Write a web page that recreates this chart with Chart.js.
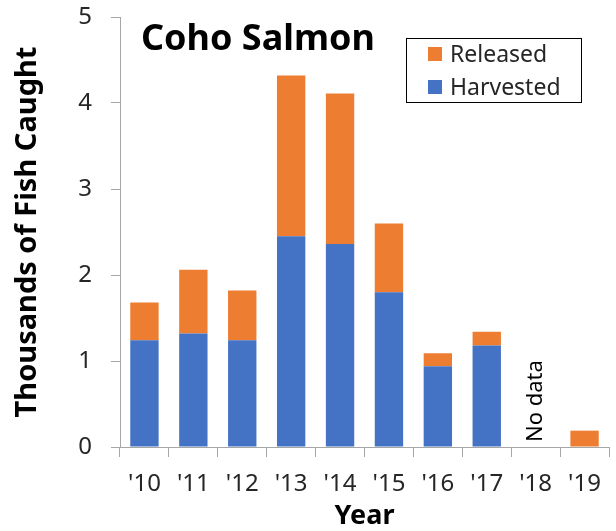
<!DOCTYPE html>
<html>
<head>
<meta charset="utf-8">
<script src="https://cdn.jsdelivr.net/npm/chart.js@4"></script>
<style>
  html, body { margin: 0; padding: 0; background: #fff; }
  #wrap { width: 616px; height: 531px; }
</style>
</head>
<body>
<div id="wrap"><canvas id="cohoChart"></canvas></div>
<script>
const years = ["'10", "'11", "'12", "'13", "'14", "'15", "'16", "'17", "'18", "'19"];
const harvested = [1.24, 1.32, 1.24, 2.45, 2.36, 1.80, 0.94, 1.18, null, 0];
const released = [0.44, 0.74, 0.58, 1.87, 1.75, 0.80, 0.15, 0.16, null, 0.19];
const yTicks = [0, 1, 2, 3, 4, 5];

const chartTitle = 'Coho Salmon';
const noDataLabel = 'No data';
const noDataIndex = 8;

const FONT = '"Noto Sans", "Open Sans", sans-serif';
Chart.defaults.font.family = FONT;
Chart.defaults.color = '#262626';

// title, boxed legend and the "No data" note sit inside the plot area
const extras = {
    id: 'extras',
    afterDraw(chart) {
        const ctx = chart.ctx;
        const x = chart.scales.x;
        const y = chart.scales.y;
        const area = chart.chartArea;
        ctx.save();

        ctx.fillStyle = '#000';
        ctx.font = 'bold 36px ' + FONT;
        ctx.textAlign = 'left';
        ctx.textBaseline = 'middle';
        ctx.fillText(chartTitle, area.left + 21, 40);

        // legend box (released first, like the original)
        const lx = 406, ly = 38, lw = 175, lh = 64;
        ctx.strokeStyle = '#000';
        ctx.lineWidth = 1;
        ctx.strokeRect(lx + 0.5, ly + 0.5, lw, lh);
        const items = chart.data.datasets.slice().reverse();
        ctx.font = '23px ' + FONT;
        items.forEach((ds, i) => {
            const cy = ly + 16 + i * 33;
            ctx.fillStyle = ds.backgroundColor;
            ctx.fillRect(lx + 22, cy - 7, 14, 14);
            ctx.fillStyle = '#262626';
            ctx.fillText(ds.label, lx + 44, cy + 1);
        });

        ctx.translate(x.getPixelForValue(noDataIndex), y.getPixelForValue(0) - 5);
        ctx.rotate(-Math.PI / 2);
        ctx.font = '22px ' + FONT;
        ctx.fillStyle = '#000';
        ctx.textAlign = 'left';
        ctx.textBaseline = 'middle';
        ctx.fillText(noDataLabel, 0, 0);
        ctx.restore();
    }
};

const axisGray = '#a6a6a6';

new Chart(document.getElementById('cohoChart'), {
    type: 'bar',
    data: {
        labels: years,
        datasets: [
            {
                label: 'Harvested',
                data: harvested,
                backgroundColor: '#4472c4',
                barPercentage: 0.58,
                categoryPercentage: 1
            },
            {
                label: 'Released',
                data: released,
                backgroundColor: '#ed7d31',
                barPercentage: 0.58,
                categoryPercentage: 1
            }
        ]
    },
    options: {
        responsive: true,
        maintainAspectRatio: false,
        animation: false,
        layout: { padding: { top: 17, right: 7, bottom: 0, left: 0 } },
        plugins: {
            legend: { display: false },
            title: { display: false },
            tooltip: { enabled: false }
        },
        scales: {
            x: {
                stacked: true,
                grid: { drawOnChartArea: false, color: axisGray, tickLength: 10 },
                border: { color: axisGray },
                ticks: { font: { size: 24 }, color: '#262626', padding: 13, maxRotation: 0 },
                title: {
                    display: true,
                    text: 'Year',
                    font: { size: 27, weight: 'bold', lineHeight: 1 },
                    color: '#000',
                    padding: { top: 0, bottom: 1 }
                },
                afterFit(scale) {
                    scale.height = 84;
                    scale.paddingLeft = 0;
                    scale.paddingRight = 0;
                }
            },
            y: {
                stacked: true,
                min: 0,
                max: 5,
                afterBuildTicks(scale) { scale.ticks = yTicks.map(v => ({ value: v })); },
                grid: { drawOnChartArea: false, color: axisGray, tickLength: 9 },
                border: { color: axisGray },
                ticks: { font: { size: 24 }, color: '#262626', padding: 19 },
                title: {
                    display: true,
                    text: 'Thousands of Fish Caught',
                    font: { size: 29, weight: 'bold' },
                    color: '#000',
                    padding: { top: 10, bottom: 0 }
                },
                afterFit(scale) {
                    scale.width = 120;
                    scale.paddingTop = 0;
                    scale.paddingBottom = 0;
                }
            }
        }
    },
    plugins: [extras]
});
</script>
</body>
</html>
